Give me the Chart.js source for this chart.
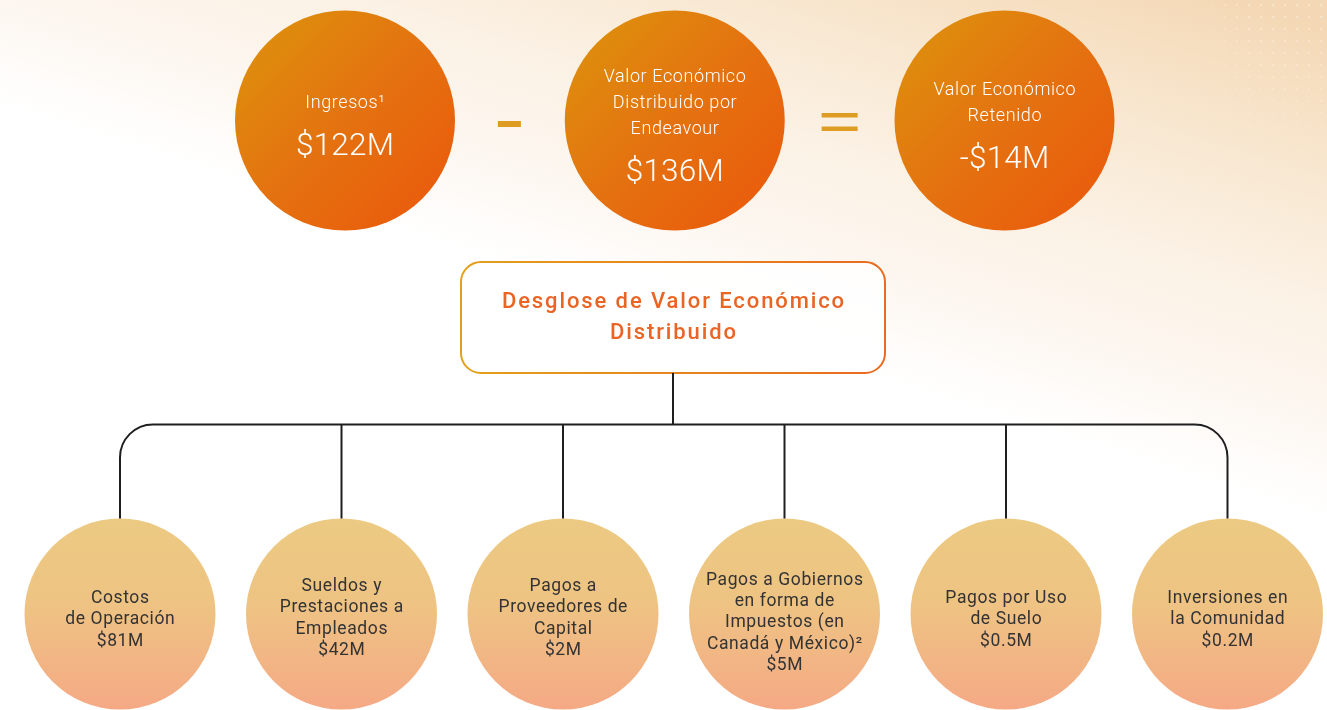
<!DOCTYPE html>
<html><head><meta charset="utf-8">
<script src="https://cdn.jsdelivr.net/npm/chart.js@4/dist/chart.umd.min.js"></script>
<style>html,body{margin:0;padding:0;background:#fff;overflow:hidden}canvas{display:block}</style>
</head><body>
<canvas id="c" width="1327" height="710"></canvas>
<script>
// ---- data ----
const topLabels = [["Ingresos¹"], ["Valor Económico", "Distribuido por", "Endeavour"], ["Valor Económico", "Retenido"]];
const topValues = [122, 136, -14];
const operators = ["-", "="];
const boxTitle = ["Desglose de Valor Económico", "Distribuido"];
const bottomLabels = [["Costos", "de Operación"], ["Sueldos y", "Prestaciones a", "Empleados"], ["Pagos a", "Proveedores de", "Capital"], ["Pagos a Gobiernos", "en forma de", "Impuestos (en", "Canadá y México)²"], ["Pagos por Uso", "de Suelo"], ["Inversiones en", "la Comunidad"]];
const bottomValues = [81, 42, 2, 5, 0.5, 0.2];
const fmt = v => (v < 0 ? '-' : '') + '$' + Math.abs(v) + 'M';

// ---- layout ----
const W = 1327, H = 710;
const TOP = { x0: 345, step: 329.75, y: 120.5, r: 110 };
const BOT = { x0: 120, step: 221.5, y: 614, r: 95.5 };
const BOX = { x1: 461, x2: 885, y1: 262, y2: 373, rad: 20, ty: 302, lh: 31 };
const BRACKET_Y = 424.5, STEM_END = 518.5, CORNER = 33;
const FONT = 'Roboto, "Noto Sans", sans-serif';
const BOT_TEXT_SHIFT = { 3: 6, 4: 4.5, 5: 9 };

const topX = i => TOP.x0 + i * TOP.step;
const botX = i => BOT.x0 + i * BOT.step;

const px = (chart, x) => chart.scales.x.getPixelForValue(x);
const py = (chart, y) => chart.scales.y.getPixelForValue(y);

function topFill(ctx) {
  const ch = ctx.chart; if (!ch.scales || !ch.scales.x || !ctx.raw) return '#E4720F';
  const cx = px(ch, ctx.raw.x), cy = py(ch, ctx.raw.y), r = TOP.r * 0.75;
  if (!isFinite(cx) || !isFinite(cy)) return '#E4720F';
  const g = ch.ctx.createLinearGradient(cx - r, cy - r, cx + r, cy + r);
  g.addColorStop(0, '#DE8C0D'); g.addColorStop(0.5, '#E47210'); g.addColorStop(1, '#E95D0C');
  return g;
}
function botFill(ctx) {
  const ch = ctx.chart; if (!ch.scales || !ch.scales.y || !ctx.raw) return '#EEC283';
  const cy = py(ch, ctx.raw.y), r = BOT.r;
  if (!isFinite(cy)) return '#EEC283';
  const g = ch.ctx.createLinearGradient(0, cy - r, 0, cy + r);
  g.addColorStop(0, '#ECCA82'); g.addColorStop(0.45, '#EEC383'); g.addColorStop(1, '#F5A985');
  return g;
}

const lineStyle = { type: 'line', borderColor: '#1f1f1f', borderWidth: 2, pointRadius: 0, fill: false, tension: 0, clip: false };

const datasets = [];
datasets.push(Object.assign({ data: [{ x: (BOX.x1 + BOX.x2) / 2, y: BOX.y2 }, { x: (BOX.x1 + BOX.x2) / 2, y: BRACKET_Y }] }, lineStyle));
datasets.push(Object.assign({ bracket: true, data: [
  { x: botX(0), y: STEM_END }, { x: botX(0), y: BRACKET_Y },
  { x: botX(bottomValues.length - 1), y: BRACKET_Y }, { x: botX(bottomValues.length - 1), y: STEM_END }] }, lineStyle));
for (let i = 1; i < bottomValues.length - 1; i++) {
  datasets.push(Object.assign({ data: [{ x: botX(i), y: BRACKET_Y }, { x: botX(i), y: STEM_END }] }, lineStyle));
}
datasets.push({
  type: 'bubble', kind: 'top', clip: false,
  data: topValues.map((v, i) => ({ x: topX(i), y: TOP.y, r: TOP.r })),
  backgroundColor: topFill, borderWidth: 0, hoverRadius: 0
});
const opPoints = [];
operators.forEach((op, i) => {
  const mx = (topX(i) + topX(i + 1)) / 2;
  if (op === '-') opPoints.push({ x: mx - 0.5, y: 124, r: 11.5, w: 6 });
  else { opPoints.push({ x: mx, y: 115.3, r: 18, w: 4.5 }); opPoints.push({ x: mx, y: 128.8, r: 18, w: 4.5 }); }
});
datasets.push({
  type: 'scatter', clip: false, data: opPoints.map(p => ({ x: p.x, y: p.y })),
  pointStyle: 'line', pointRadius: opPoints.map(p => p.r), pointBorderWidth: opPoints.map(p => p.w),
  borderColor: '#DE9C22', backgroundColor: '#DE9C22', pointHoverRadius: 0
});
datasets.push({
  type: 'bubble', kind: 'bottom', clip: false,
  data: bottomValues.map((v, i) => ({ x: botX(i), y: BOT.y, r: BOT.r })),
  backgroundColor: botFill, borderWidth: 0, hoverRadius: 0
});

function drawText(ctx, text, x, y, font, color, spacing) {
  ctx.font = font; ctx.fillStyle = color;
  ctx.textAlign = 'center'; ctx.textBaseline = 'middle';
  try { ctx.letterSpacing = spacing + 'px'; } catch (e) {}
  ctx.fillText(text, x + spacing / 2, y);
  try { ctx.letterSpacing = '0px'; } catch (e) {}
}

const decor = {
  id: 'decor',
  beforeDraw(chart) {
    const ctx = chart.ctx;
    ctx.save();
    ctx.fillStyle = '#fff'; ctx.fillRect(0, 0, W, H);
    const g = ctx.createLinearGradient(760, -150, 620, 300);
    g.addColorStop(0, '#F4D8B5'); g.addColorStop(0.3, '#F8E7D0'); g.addColorStop(0.55, '#FBF1E4');
    g.addColorStop(0.8, '#FDF7F1'); g.addColorStop(1, '#FFFFFF');
    ctx.fillStyle = g; ctx.fillRect(0, 0, W, H);
    for (let yy = 4; yy < 190; yy += 12) {
      for (let xx = 1200; xx < W; xx += 12) {
        const a = 0.35 * Math.max(0, 1 - yy / 190) * Math.min(1, (xx - 1190) / 60);
        if (a <= 0.02) continue;
        ctx.fillStyle = 'rgba(255,255,255,' + a.toFixed(3) + ')';
        ctx.fillRect(xx, yy, 2, 2);
      }
    }
    const x1 = px(chart, BOX.x1), x2 = px(chart, BOX.x2), y1 = py(chart, BOX.y1), y2 = py(chart, BOX.y2);
    const bg = ctx.createLinearGradient(x1, 0, x2, 0);
    bg.addColorStop(0, '#E3A01B'); bg.addColorStop(1, '#EA6A1F');
    ctx.beginPath(); ctx.roundRect(x1, y1, x2 - x1, y2 - y1, BOX.rad);
    ctx.fillStyle = 'rgba(255,255,255,0.85)'; ctx.fill();
    ctx.lineWidth = 2; ctx.strokeStyle = bg; ctx.stroke();
    const cx = (x1 + x2) / 2;
    boxTitle.forEach((t, i) => drawText(ctx, t, cx, py(chart, BOX.ty + i * BOX.lh), '500 22px ' + FONT, '#EA6424', 1.9));
    ctx.restore();
  },
  beforeDatasetDraw(chart, args) {
    const ds = chart.data.datasets[args.index];
    if (!ds.bracket) return;
    const p = args.meta.data, ctx = chart.ctx;
    ctx.save();
    ctx.beginPath();
    ctx.moveTo(p[0].x, p[0].y);
    ctx.arcTo(p[1].x, p[1].y, p[2].x, p[2].y, CORNER);
    ctx.arcTo(p[2].x, p[2].y, p[3].x, p[3].y, CORNER);
    ctx.lineTo(p[3].x, p[3].y);
    ctx.lineWidth = ds.borderWidth; ctx.strokeStyle = ds.borderColor; ctx.stroke();
    ctx.restore();
    return false;
  },
  afterDatasetsDraw(chart) {
    const ctx = chart.ctx;
    ctx.save();
    chart.data.datasets.forEach((ds, di) => {
      if (!ds.kind) return;
      const meta = chart.getDatasetMeta(di);
      meta.data.forEach((el, i) => {
        if (ds.kind === 'top') {
          const lines = topLabels[i], n = lines.length, lh = 26, gap = 44;
          const h = (n - 1) * lh + gap;
          const y0 = el.y + 5 - h / 2;
          lines.forEach((t, k) => drawText(ctx, t, el.x, y0 + k * lh, '300 18px ' + FONT, '#FFFFFF', 0.6));
          drawText(ctx, fmt(topValues[i]), el.x, y0 + (n - 1) * lh + gap, '300 31.5px ' + FONT, '#FFFFFF', 0.2);
        } else {
          const lines = bottomLabels[i].concat([fmt(bottomValues[i])]), n = lines.length, lh = 21.3;
          const y0 = el.y + (BOT_TEXT_SHIFT[n] || 5) - (n - 1) * lh / 2;
          lines.forEach((t, k) => drawText(ctx, t, el.x, y0 + k * lh, '400 17.5px ' + FONT, '#333333', 0.6));
        }
      });
    });
    ctx.restore();
  }
};

new Chart(document.getElementById('c'), {
  data: { datasets },
  options: {
    responsive: false, animation: false, events: [],
    layout: { padding: 0, autoPadding: false },
    plugins: { legend: { display: false }, tooltip: { enabled: false } },
    scales: {
      x: { type: 'linear', min: 0, max: W, display: false },
      y: { type: 'linear', min: 0, max: H, reverse: true, display: false }
    }
  },
  plugins: [decor]
});
</script>
</body></html>
